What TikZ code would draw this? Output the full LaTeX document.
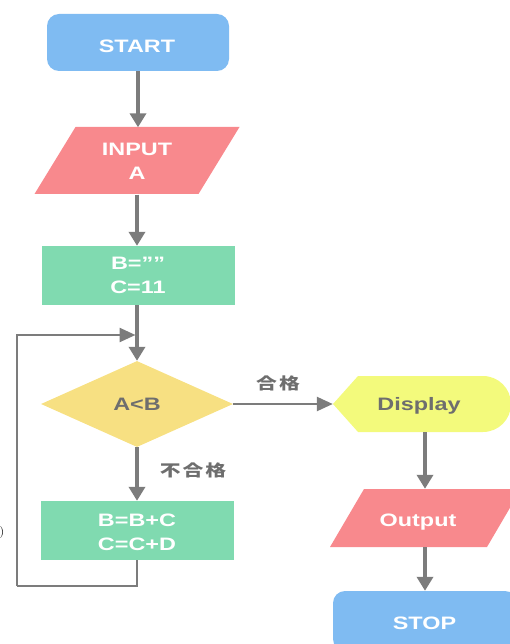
\documentclass[tikz,border=0pt]{standalone}
\usepackage{fontspec}
\usetikzlibrary{arrows.meta,shapes.geometric,calc}
\newfontfamily\wfont{Liberation Sans}[FakeStretch=1.3]
\newfontfamily\cjk{Noto Sans CJK JP}[FakeStretch=1.3]
\definecolor{cblue}{HTML}{7FBBF2}
\definecolor{cpink}{HTML}{F8898D}
\definecolor{cgreen}{HTML}{80DAB0}
\definecolor{cyell}{HTML}{F7E082}
\definecolor{cdisp}{HTML}{F3FA7C}
\definecolor{cline}{HTML}{7C7C7C}
\definecolor{ctext}{HTML}{6E6E6E}
\tikzset{
  txt/.style={font={\wfont\bfseries\fontsize{18}{24}\selectfont}, text=white, align=center, inner sep=0pt},
  gtxt/.style={txt, text=ctext},
  ghost/.style={inner sep=0pt, draw=none},
  boxnode/.style={txt, minimum width=193pt, minimum height=59pt, fill=cgreen},
  arr/.style={draw=cline, line width=3.5pt, -{Triangle[width=16pt,length=14pt]}},
  thinarr/.style={draw=cline, line width=2.5pt, -{Triangle[width=14pt,length=16pt]}},
  loopline/.style={draw=cline, line width=2.5pt},
  lbl/.style={font={\cjk\bfseries\fontsize{16}{18}\selectfont}, text=ctext, inner sep=0pt}
}
\begin{document}
\begin{tikzpicture}[x=1pt,y=-1pt]
\useasboundingbox (0,0) rectangle (510,644);

% START
\node[txt, fill=cblue, rounded corners=12pt, minimum width=182pt, minimum height=57pt] (start) at (138,42.5) {};
\node[txt] (starttext) at (137,46) {START};

% INPUT parallelogram
\fill[cpink] (75.5,127) -- (239.5,127) -- (198.5,194) -- (34.5,194) -- cycle;
\node[txt, ghost, minimum width=164pt, minimum height=67pt] (input) at (137,161) {INPUT\\A};

% B="" C=11
\node[boxnode] (box1) at (138,275.5) {B=””\\C=11};

% diamond
\node[gtxt, diamond, fill=cyell, minimum width=192pt, minimum height=86pt] (dia) at (137,404) {A<B};

% B=B+C
\node[boxnode] (box2) at (137,530.5) {};
\node[txt] (box2text) at (137,532) {B=B+C\\C=C+D};

% Display
\fill[cdisp] (333,404) -- (358,376) -- (483,376) arc[start angle=90, end angle=-90, radius=28pt] -- (358,432) -- cycle;
\node[ghost, minimum width=184pt, minimum height=56pt] (display) at (425,404) {};
\node[gtxt] (disptext) at (419,406) {Display};

% Output parallelogram
\fill[cpink] (364,489) -- (521,489) -- (487,547) -- (330,547) -- cycle;
\node[ghost, minimum width=157pt, minimum height=58pt] (output) at (425,518) {};
\node[txt] (outtext) at (418,522) {Output};

% STOP
\node[txt, fill=cblue, rounded corners=12pt, minimum width=184pt, minimum height=60pt] (stop) at (425,621) {};
\node[txt] (stoptext) at (424.5,623) {STOP};

% connectors
\coordinate (join) at (137,335);
\coordinate (corner) at (17,586);
\draw[arr] (start.south) -- (start.south |- input.north);
\draw[arr] (input.south) -- (input.south |- box1.north);
\draw[arr] (box1.south -| dia.north) -- (dia.north);
\draw[arr] (dia.south) -- (box2.north);
\draw[loopline] (box2.south) |- (corner);
\draw[thinarr, shorten >=1.5pt] (corner) |- (join);
\draw[thinarr] (dia.east) -- (display.west);
\draw[arr] (display.south) -- (output.north);
\draw[arr] (output.south) -- (output.south |- stop.north);

% labels
\node[lbl] (yes) at (278,383) {合\hspace{2pt}格};
\node[lbl] (no) at (193,470) {不\hspace{2pt}合\hspace{2pt}格};

% stray glyph at left edge
\node[font=\fontsize{12}{12}\selectfont, inner sep=0pt] (stray) at (1.8,532) {)};
\end{tikzpicture}
\end{document}
